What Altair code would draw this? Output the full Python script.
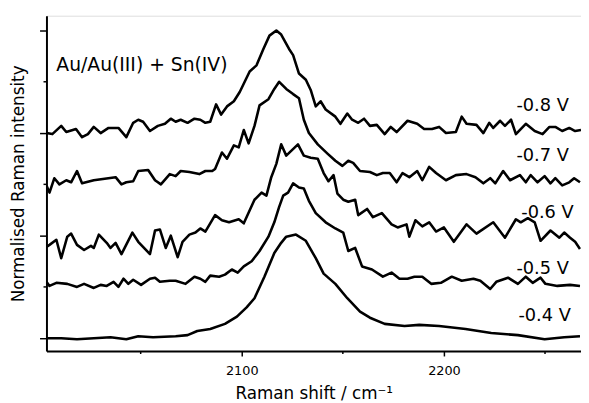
import altair as alt
import pandas as pd

# ---- data (wavenumber / cm-1, normalised intensity incl. stacking offset) ----
x_08 = [2003.4, 2006.3, 2010.7, 2013.2, 2018.0, 2021.0, 2023.9, 2026.8, 2030.2, 2034.1, 2039.0, 2042.9, 2046.3, 2048.8, 2051.2, 2054.6, 2058.5, 2062.0, 2064.9, 2067.3, 2069.8, 2073.2, 2076.6, 2079.5, 2082.0, 2084.4, 2087.3, 2089.8, 2092.7, 2096.1, 2099.0, 2103.9, 2107.3, 2110.7, 2113.7, 2117.1, 2119.5, 2123.4, 2125.4, 2128.3, 2131.7, 2134.1, 2136.6, 2139.0, 2141.5, 2146.3, 2148.8, 2152.2, 2154.6, 2157.6, 2160.5, 2163.4, 2166.8, 2170.7, 2173.7, 2176.6, 2182.0, 2186.8, 2190.2, 2194.1, 2197.6, 2201.0, 2205.9, 2208.8, 2211.2, 2216.1, 2219.5, 2222.4, 2224.4, 2227.8, 2230.2, 2233.2, 2235.6, 2240.5, 2244.9, 2248.8, 2252.2, 2255.1, 2258.5, 2262.0, 2264.9, 2267.8]
y_08 = [2.00, 1.99, 2.07, 2.01, 2.04, 1.96, 1.99, 2.06, 2.00, 2.05, 2.05, 1.96, 2.10, 2.13, 2.11, 2.02, 2.07, 2.09, 2.14, 2.11, 2.13, 2.10, 2.14, 2.13, 2.10, 2.11, 2.28, 2.18, 2.26, 2.31, 2.40, 2.60, 2.66, 2.82, 2.95, 3.00, 2.96, 2.82, 2.76, 2.58, 2.52, 2.42, 2.26, 2.31, 2.23, 2.16, 2.09, 2.19, 2.13, 2.10, 2.14, 2.07, 2.08, 1.99, 2.06, 2.01, 2.12, 2.09, 2.04, 2.04, 2.06, 2.00, 2.01, 2.16, 2.09, 2.08, 2.00, 2.10, 2.05, 2.12, 2.07, 2.13, 1.99, 2.09, 2.02, 1.99, 2.06, 2.06, 2.02, 2.05, 2.02, 2.03]

x_07 = [2003.4, 2004.9, 2007.3, 2009.8, 2013.2, 2015.6, 2018.5, 2021.0, 2026.8, 2037.6, 2040.5, 2042.9, 2046.3, 2048.8, 2053.7, 2057.1, 2060.0, 2064.4, 2067.3, 2069.8, 2074.1, 2079.0, 2082.0, 2085.4, 2086.8, 2090.2, 2092.7, 2096.1, 2098.5, 2101.0, 2103.4, 2106.3, 2108.8, 2113.2, 2116.1, 2118.5, 2122.0, 2125.4, 2128.3, 2130.7, 2133.2, 2137.6, 2142.4, 2146.3, 2149.8, 2152.7, 2155.1, 2158.5, 2163.4, 2166.8, 2169.8, 2173.2, 2176.6, 2179.5, 2182.9, 2186.8, 2189.3, 2192.7, 2196.1, 2201.0, 2205.9, 2211.2, 2215.6, 2219.5, 2222.9, 2225.4, 2229.3, 2232.7, 2237.6, 2240.5, 2242.9, 2246.3, 2249.8, 2252.7, 2255.1, 2258.5, 2262.0, 2264.4, 2267.3]
y_07 = [1.49, 1.42, 1.56, 1.50, 1.54, 1.52, 1.63, 1.51, 1.54, 1.57, 1.50, 1.52, 1.53, 1.63, 1.64, 1.54, 1.50, 1.60, 1.58, 1.63, 1.62, 1.60, 1.63, 1.63, 1.65, 1.81, 1.75, 1.88, 1.86, 2.03, 1.90, 2.07, 2.27, 2.33, 2.43, 2.50, 2.43, 2.38, 2.34, 2.13, 2.00, 1.89, 1.80, 1.73, 1.68, 1.73, 1.71, 1.63, 1.62, 1.59, 1.61, 1.61, 1.52, 1.61, 1.57, 1.63, 1.54, 1.67, 1.61, 1.54, 1.59, 1.60, 1.57, 1.51, 1.56, 1.51, 1.63, 1.54, 1.59, 1.52, 1.59, 1.52, 1.58, 1.51, 1.56, 1.49, 1.52, 1.56, 1.52]

x_06 = [2003.4, 2004.9, 2008.3, 2010.7, 2013.7, 2015.6, 2018.5, 2022.0, 2025.4, 2026.8, 2029.3, 2033.2, 2035.1, 2037.6, 2040.5, 2045.9, 2048.8, 2054.6, 2057.1, 2059.5, 2062.4, 2064.9, 2068.3, 2070.7, 2074.1, 2077.1, 2079.5, 2082.0, 2086.8, 2090.2, 2093.7, 2098.5, 2101.0, 2106.3, 2109.8, 2112.2, 2114.6, 2117.1, 2119.5, 2122.0, 2127.8, 2130.7, 2134.1, 2137.6, 2140.5, 2142.9, 2145.4, 2147.3, 2150.2, 2152.7, 2156.1, 2157.6, 2162.0, 2164.9, 2169.3, 2174.1, 2177.1, 2181.5, 2182.9, 2185.9, 2189.3, 2192.7, 2196.1, 2200.0, 2204.9, 2211.2, 2216.1, 2224.4, 2230.2, 2235.6, 2238.0, 2241.5, 2244.9, 2247.8, 2252.7, 2257.1, 2259.5, 2262.4, 2264.9, 2267.3]
y_06 = [0.89, 0.91, 0.96, 0.78, 0.99, 1.02, 0.91, 0.86, 0.90, 0.88, 1.01, 0.93, 0.88, 0.93, 0.82, 1.03, 0.94, 0.82, 1.05, 1.06, 0.88, 1.00, 0.79, 0.94, 1.01, 1.03, 1.07, 1.04, 1.20, 1.15, 1.13, 1.16, 1.12, 1.35, 1.42, 1.39, 1.57, 1.70, 1.89, 1.78, 1.89, 1.78, 1.76, 1.75, 1.61, 1.53, 1.59, 1.41, 1.35, 1.33, 1.35, 1.20, 1.26, 1.18, 1.22, 1.11, 1.08, 1.11, 0.99, 1.15, 1.09, 1.13, 1.04, 1.08, 0.94, 1.11, 1.02, 1.13, 0.98, 1.16, 1.13, 1.17, 1.13, 0.95, 1.05, 0.98, 1.03, 0.98, 0.94, 0.87]

x_05 = [2003.4, 2004.9, 2008.3, 2013.7, 2018.5, 2022.0, 2026.8, 2030.2, 2033.2, 2036.6, 2039.0, 2041.5, 2043.9, 2046.3, 2050.2, 2054.6, 2057.1, 2059.5, 2064.4, 2067.3, 2072.2, 2076.6, 2079.5, 2082.0, 2084.4, 2088.8, 2091.7, 2095.1, 2098.0, 2101.0, 2104.9, 2108.8, 2113.2, 2116.1, 2118.5, 2120.5, 2122.9, 2125.4, 2128.3, 2130.7, 2133.2, 2136.6, 2141.5, 2146.3, 2150.2, 2152.7, 2156.1, 2159.5, 2164.4, 2169.8, 2174.1, 2178.0, 2182.0, 2185.4, 2189.3, 2193.7, 2198.5, 2203.9, 2208.8, 2214.6, 2218.0, 2222.9, 2225.9, 2231.7, 2236.6, 2240.5, 2243.9, 2247.8, 2250.2, 2256.1, 2262.4, 2267.3]
y_05 = [0.55, 0.51, 0.54, 0.53, 0.50, 0.53, 0.49, 0.52, 0.51, 0.55, 0.50, 0.58, 0.53, 0.57, 0.52, 0.58, 0.59, 0.55, 0.56, 0.56, 0.53, 0.60, 0.58, 0.55, 0.61, 0.60, 0.62, 0.67, 0.64, 0.70, 0.75, 0.85, 0.99, 1.13, 1.28, 1.39, 1.42, 1.51, 1.47, 1.46, 1.34, 1.22, 1.13, 1.07, 1.03, 0.85, 0.88, 0.70, 0.67, 0.60, 0.64, 0.58, 0.58, 0.60, 0.60, 0.53, 0.54, 0.60, 0.56, 0.58, 0.56, 0.48, 0.55, 0.59, 0.53, 0.60, 0.54, 0.59, 0.53, 0.51, 0.52, 0.51]

x_04 = [2003.4, 2010.7, 2018.5, 2026.8, 2035.1, 2042.9, 2048.8, 2056.1, 2067.3, 2073.2, 2078.0, 2084.4, 2091.7, 2097.6, 2102.4, 2106.3, 2111.2, 2116.1, 2119.5, 2122.0, 2126.8, 2131.7, 2136.6, 2140.5, 2146.3, 2152.2, 2158.5, 2163.4, 2170.7, 2180.5, 2187.8, 2197.6, 2210.7, 2223.4, 2236.6, 2249.8, 2259.5, 2267.3]
y_04 = [0.00, 0.00, -0.01, 0.00, 0.01, -0.01, 0.02, 0.01, 0.02, 0.03, 0.07, 0.09, 0.14, 0.21, 0.30, 0.39, 0.60, 0.83, 0.93, 0.99, 1.01, 0.95, 0.78, 0.63, 0.53, 0.39, 0.26, 0.20, 0.14, 0.12, 0.13, 0.12, 0.09, 0.05, 0.03, -0.01, 0.01, 0.02]

series_names = ["-0.8 V", "-0.7 V", "-0.6 V", "-0.5 V", "-0.4 V"]
series_x = [x_08, x_07, x_06, x_05, x_04]
series_y = [y_08, y_07, y_06, y_05, y_04]

x_major_ticks = [2100, 2200]
x_minor_ticks = [2050, 2150, 2250]
y_major_ticks = [0, 1, 2, 3]
y_minor_ticks = [0.5, 1.5, 2.5]

title_text = "Au/Au(III) + Sn(IV)"

# ---- build tables ----
rows = []
for name, xs, ys in zip(series_names, series_x, series_y):
    for i, (xv, yv) in enumerate(zip(xs, ys)):
        rows.append({"series": name, "order": i, "shift": xv, "intensity": yv})
df = pd.DataFrame(rows)

FONT = "DejaVu Sans"
W, H = 542, 340
xscale = alt.Scale(domain=[2003.4, 2267.8], nice=False, zero=False)
yscale = alt.Scale(domain=[-0.125, 3.144], nice=False, zero=False)

lines = alt.Chart(df).mark_line(color="black", strokeWidth=2.6, clip=True, strokeJoin="round").encode(
    x=alt.X("shift:Q", scale=xscale,
            axis=alt.Axis(values=x_major_ticks, format="d", title="Raman shift / cm⁻¹",
                          tickSize=5, tickWidth=1.5, domainWidth=2, domainColor="black",
                          tickColor="black", labelFont=FONT, labelFontSize=13, labelColor="black",
                          labelPadding=9, titleFont=FONT, titleFontSize=17, titleFontWeight="normal",
                          titleColor="black", titlePadding=8, grid=False)),
    y=alt.Y("intensity:Q", scale=yscale,
            axis=alt.Axis(values=y_major_ticks, labels=False, title="Normalised Raman intensity",
                          tickSize=7, tickWidth=1.5, domainWidth=2, domainColor="black",
                          tickColor="black", titleFont=FONT, titleFontSize=17,
                          titleFontWeight="normal", titleColor="black", titlePadding=12, grid=False)),
    detail="series:N",
    order="order:Q",
)

xminor = alt.Chart(pd.DataFrame({"t": x_minor_ticks})).mark_rule(color="black", strokeWidth=1.5).encode(
    x=alt.X("t:Q", scale=xscale), y=alt.value(H), y2=alt.value(H + 3)
)
yminor = alt.Chart(pd.DataFrame({"t": y_minor_ticks})).mark_rule(color="black", strokeWidth=1.5).encode(
    y=alt.Y("t:Q", scale=yscale), x=alt.value(-3), x2=alt.value(0)
)

lab_df = pd.DataFrame({
    "label": series_names,
    "lx": [2248.8, 2248.8, 2251.2, 2248.8, 2249.8],
    "ly": [2.26, 1.78, 1.22, 0.67, 0.22],
})
labels = alt.Chart(lab_df).mark_text(font=FONT, fontSize=18, color="black", align="center",
                                     baseline="middle").encode(
    x=alt.X("lx:Q", scale=xscale), y=alt.Y("ly:Q", scale=yscale), text="label:N"
)

title_df = pd.DataFrame({"label": [title_text], "lx": [2008.3], "ly": [2.66]})
title_mark = alt.Chart(title_df).mark_text(font=FONT, fontSize=19, color="black", align="left",
                                           baseline="middle").encode(
    x=alt.X("lx:Q", scale=xscale), y=alt.Y("ly:Q", scale=yscale), text="label:N"
)

chart = alt.layer(lines, xminor, yminor, labels, title_mark).properties(
    width=W, height=H,
    autosize=alt.AutoSizeParams(type="none"),
    padding={"left": 39, "top": 5, "right": 0, "bottom": 60},
).configure_view(stroke=None).configure(background="white")

chart.save("out.html", embed_options={"renderer": "svg", "actions": False})
